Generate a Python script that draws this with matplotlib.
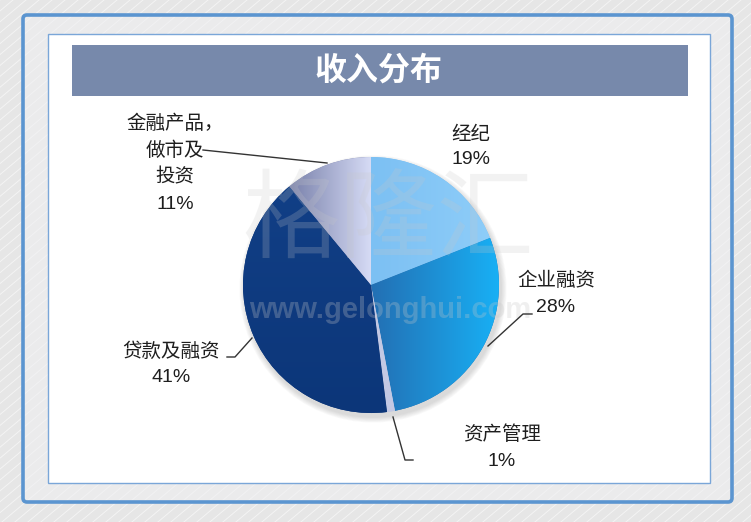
import numpy as np
import matplotlib.pyplot as plt
from matplotlib.colors import to_rgb
from matplotlib.patches import FancyBboxPatch, Rectangle, Circle

plt.rcParams['font.family'] = ['Liberation Sans', 'Noto Sans CJK SC', 'DejaVu Sans']

W, H = 751, 522

# data (clockwise from 12 o'clock)
categories = ['经纪', '企业融资', '资产管理', '贷款及融资', '金融产品，\n做市及\n投资']
shares = [19, 28, 1, 41, 11]
pct_labels = ['19%', '28%', '1%', '41%', '11%']
title = '收入分布'

# colours: (start, end, direction) for a gradient fill of each slice
slice_fills = [
    ('#7cc0f3', '#8ecdf9', 'h'),
    ('#236fb3', '#18b0f5', 'h'),
    ('#c3c9e4', '#c3c9e4', 'h'),
    ('#0c3679', '#113f86', 'v'),
    ('#7880aa', '#d6dbf5', 'h'),
]

# label anchors in image pixels: (x, first line y, line step)
label_pos = [(471, 135, 24), (556, 281, 27), (502, 435, 27), (171, 352, 26), (175, 124, 26.7)]
leaders = [
    None,
    [(532, 314), (523, 314), (488, 346)],
    [(393, 417), (405, 460), (413, 460)],
    [(227, 357), (235, 357), (252, 338)],
    [(203, 150), (327, 163)],
]


def Y(y):
    return H - y


fig = plt.figure(figsize=(W / 100, H / 100), dpi=100)
fig.patch.set_facecolor('#e6e6e6')
ax = fig.add_axes([0, 0, 1, 1])

# diagonal background stripes
dx = H / np.tan(np.radians(40))
for x0 in np.arange(-dx, W + 20, 13):
    ax.plot([x0, x0 + dx], [0, H], color='white', lw=0.7, alpha=0.55, zorder=0)

# outer frame, inner white panel, title bar
ax.add_patch(FancyBboxPatch((23, Y(502)), 732 - 23, 502 - 15,
                            boxstyle='round,pad=0,rounding_size=4',
                            fc=(0.94, 0.94, 0.95, 0.55), ec='#5b95d0', lw=2.6, zorder=1))
ax.add_patch(Rectangle((48, Y(483)), 710 - 48, 483 - 34, fc='white', ec='#7aa6d8', lw=1.0, zorder=2))
ax.add_patch(Rectangle((72, Y(96)), 688 - 72, 96 - 45, fc='#7789ab', ec='none', zorder=3))
ax.text(378, Y(71), title, color='white', fontsize=23, fontweight='bold',
        ha='center', va='center', zorder=4)

# pie
cx, cy, r = 371, 285, 128
for k in range(1, 8):
    ax.add_patch(Circle((cx + 2, Y(cy + 4)), r + k * 0.8, fc='#6a6a6a', ec='none',
                        alpha=0.035, zorder=4))

wedges, _ = ax.pie(shares, colors=[f[0] for f in slice_fills], startangle=90,
                   counterclock=False, center=(cx, Y(cy)), radius=r, frame=True,
                   wedgeprops=dict(linewidth=0, zorder=5))

for w, (c0, c1, d) in zip(wedges, slice_fills):
    w.set_zorder(5)
    th = np.radians(np.linspace(w.theta1, w.theta2, 60))
    xs = np.concatenate([[cx], cx + r * np.cos(th)])
    ys = np.concatenate([[Y(cy)], Y(cy) + r * np.sin(th)])
    t = np.linspace(0, 1, 256)[:, None]
    cols = (1 - t) * np.array(to_rgb(c0)) + t * np.array(to_rgb(c1))
    img = cols[None, :, :] if d == 'h' else cols[:, None, :]
    im = ax.imshow(img, extent=(xs.min(), xs.max(), ys.min(), ys.max()), origin='lower',
                   aspect='auto', interpolation='bilinear', zorder=5.5)
    im.set_clip_path(w)

# watermark
ax.text(388, Y(226), '格隆汇', fontsize=70, fontweight='light', color='#c8c8c8',
        alpha=0.22, ha='center', va='center', zorder=6)
ax.text(390, Y(310), 'www.gelonghui.com', fontsize=21, fontweight='bold', color='#c8c8c8',
        alpha=0.28, ha='center', va='center', zorder=6)

# labels and leader lines
for cat, pct, (lx, ly, step), ld in zip(categories, pct_labels, label_pos, leaders):
    lines = cat.split('\n') + [pct]
    for i, s in enumerate(lines):
        ax.text(lx, Y(ly + i * step), s, fontsize=14, color='#1e1e1e', fontweight='medium',
                ha='center', va='center', zorder=7)
    if ld:
        ax.plot([p[0] for p in ld], [Y(p[1]) for p in ld], color='#333333', lw=1.0, zorder=7)

ax.set_xlim(0, W)
ax.set_ylim(0, H)
ax.set_aspect('auto')
ax.axis('off')

fig.savefig('out.png', dpi=100, facecolor=fig.get_facecolor())
